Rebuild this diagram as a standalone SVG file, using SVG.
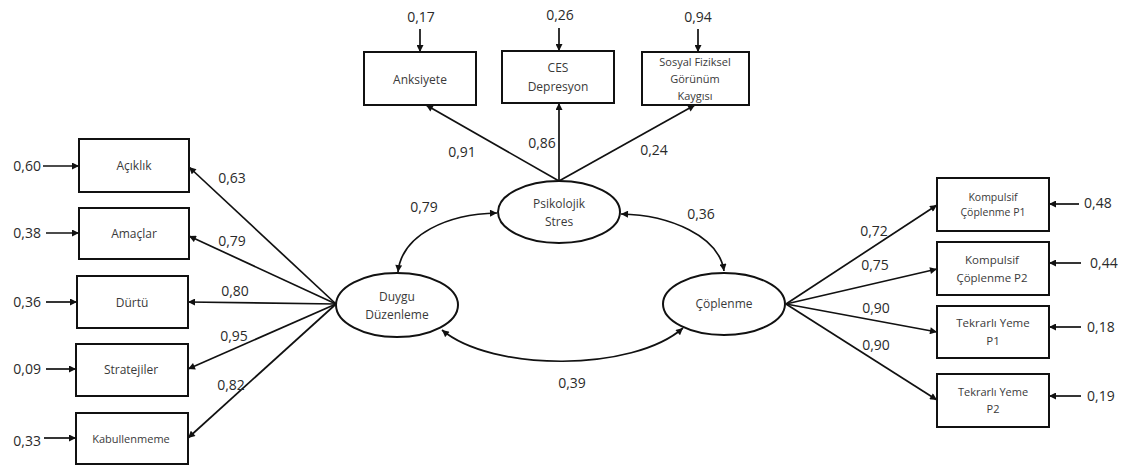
<svg xmlns="http://www.w3.org/2000/svg" width="1125" height="468" viewBox="0 0 1125 468">
  <defs>
    <marker id="ah" viewBox="0 0 10 10" refX="10" refY="5" markerWidth="8" markerHeight="7" markerUnits="userSpaceOnUse" orient="auto-start-reverse">
      <path d="M0,0 L10,5 L0,10 Z" fill="#111"/>
    </marker>
    <style>
      .box { fill: #fff; stroke: #111; stroke-width: 2; }
      .lat { fill: #fff; stroke: #111; stroke-width: 2; }
      .edge { fill: none; stroke: #111; stroke-width: 1.7; marker-end: url(#ah); }
      .cov { fill: none; stroke: #111; stroke-width: 1.7; marker-start: url(#ah); marker-end: url(#ah); }
      .lbl { font-family: "Open Sans", "Liberation Sans", sans-serif; font-size: 12px; fill: #3a3a3a; text-anchor: middle; }
      .sm { font-size: 10.5px; }
      .num { font-family: "Open Sans", "Liberation Sans", sans-serif; font-size: 14px; fill: #2a2a2a; }
      .mid { text-anchor: middle; }
      .end { text-anchor: end; }
    </style>
  </defs>

  <!-- connectors -->
  <g id="connectors">
    <!-- Duygu Düzenleme loadings -->
    <line class="edge" x1="336" y1="304" x2="189" y2="167"/>
    <line class="edge" x1="336" y1="304" x2="189" y2="236"/>
    <line class="edge" x1="336" y1="304" x2="188" y2="302"/>
    <line class="edge" x1="336" y1="304" x2="188" y2="369"/>
    <line class="edge" x1="336" y1="304" x2="188" y2="438"/>
    <!-- Psikolojik Stres loadings -->
    <line class="edge" x1="559" y1="181" x2="426" y2="105"/>
    <line class="edge" x1="559" y1="181" x2="559" y2="103"/>
    <line class="edge" x1="559" y1="181" x2="695" y2="105"/>
    <!-- Çöplenme loadings -->
    <line class="edge" x1="786" y1="304" x2="937" y2="205"/>
    <line class="edge" x1="786" y1="304" x2="937" y2="269"/>
    <line class="edge" x1="786" y1="304" x2="937" y2="332"/>
    <line class="edge" x1="786" y1="304" x2="937" y2="400"/>
    <!-- error terms, left -->
    <line class="edge" x1="43" y1="166" x2="79" y2="166"/>
    <line class="edge" x1="46" y1="233" x2="79" y2="233"/>
    <line class="edge" x1="46" y1="302" x2="77" y2="302"/>
    <line class="edge" x1="46" y1="369" x2="76" y2="369"/>
    <line class="edge" x1="44" y1="438" x2="76" y2="438"/>
    <!-- error terms, top -->
    <line class="edge" x1="420" y1="29" x2="420" y2="52"/>
    <line class="edge" x1="559" y1="28" x2="559" y2="51"/>
    <line class="edge" x1="698" y1="29" x2="698" y2="52"/>
    <!-- error terms, right -->
    <line class="edge" x1="1079" y1="204" x2="1049" y2="204"/>
    <line class="edge" x1="1081" y1="263" x2="1049" y2="263"/>
    <line class="edge" x1="1081" y1="327" x2="1049" y2="327"/>
    <line class="edge" x1="1081" y1="396" x2="1049" y2="396"/>
    <!-- covariances -->
    <path class="cov" d="M398,272 C402,234 448,214 497,213"/>
    <path class="cov" d="M621,214 C670,215 719,236 724,271"/>
    <path class="cov" d="M442,330 C492,372 633,372 683,328"/>
  </g>

  <!-- path coefficients -->
  <g id="coefficients" class="num">
    <text x="232" y="183" class="mid">0,63</text>
    <text x="232" y="246" class="mid">0,79</text>
    <text x="235" y="296" class="mid">0,80</text>
    <text x="234" y="341" class="mid">0,95</text>
    <text x="231" y="390" class="mid">0,82</text>
    <text x="462" y="157" class="mid">0,91</text>
    <text x="542" y="148" class="mid">0,86</text>
    <text x="654" y="155" class="mid">0,24</text>
    <text x="874" y="236" class="mid">0,72</text>
    <text x="875" y="270" class="mid">0,75</text>
    <text x="876" y="313" class="mid">0,90</text>
    <text x="876" y="350" class="mid">0,90</text>
    <text x="424" y="212" class="mid">0,79</text>
    <text x="701" y="219" class="mid">0,36</text>
    <text x="572" y="388" class="mid">0,39</text>
  </g>

  <!-- error variances -->
  <g id="errors" class="num">
    <text x="41" y="171" class="end">0,60</text>
    <text x="41" y="238" class="end">0,38</text>
    <text x="41" y="307" class="end">0,36</text>
    <text x="41" y="374" class="end">0,09</text>
    <text x="41" y="446" class="end">0,33</text>
    <text x="421" y="22" class="mid">0,17</text>
    <text x="560" y="20" class="mid">0,26</text>
    <text x="698" y="22" class="mid">0,94</text>
    <text x="1084" y="208">0,48</text>
    <text x="1090" y="268">0,44</text>
    <text x="1087" y="332">0,18</text>
    <text x="1087" y="401">0,19</text>
  </g>

  <!-- latent variables -->
  <g id="psikolojik-stres">
    <ellipse class="lat" cx="559" cy="212" rx="61" ry="31"/>
    <text class="lbl" x="559" y="208">Psikolojik</text>
    <text class="lbl" x="559" y="226">Stres</text>
  </g>
  <g id="duygu-duzenleme">
    <ellipse class="lat" cx="397" cy="305" rx="61" ry="32"/>
    <text class="lbl" x="397" y="301">Duygu</text>
    <text class="lbl" x="397" y="319">Düzenleme</text>
  </g>
  <g id="coplenme">
    <ellipse class="lat" cx="724" cy="304" rx="61" ry="31"/>
    <text class="lbl" x="724" y="308">Çöplenme</text>
  </g>

  <!-- Duygu Düzenleme indicators -->
  <g id="aciklik">
    <rect class="box" x="79" y="139" width="110" height="53"/>
    <text class="lbl" x="134" y="170">Açıklık</text>
  </g>
  <g id="amaclar">
    <rect class="box" x="79" y="208" width="110" height="51"/>
    <text class="lbl" x="134" y="238">Amaçlar</text>
  </g>
  <g id="durtu">
    <rect class="box" x="77" y="276" width="111" height="52"/>
    <text class="lbl" x="132" y="307">Dürtü</text>
  </g>
  <g id="stratejiler">
    <rect class="box" x="76" y="344" width="112" height="52"/>
    <text class="lbl" x="131" y="374">Stratejiler</text>
  </g>
  <g id="kabullenmeme">
    <rect class="box" x="76" y="413" width="112" height="51"/>
    <text class="lbl" x="131" y="443" style="font-size:11px">Kabullenmeme</text>
  </g>

  <!-- Psikolojik Stres indicators -->
  <g id="anksiyete">
    <rect class="box" x="364" y="52" width="112" height="53"/>
    <text class="lbl" x="420" y="84">Anksiyete</text>
  </g>
  <g id="ces-depresyon">
    <rect class="box" x="502" y="51" width="112" height="52"/>
    <text class="lbl" x="558" y="72">CES</text>
    <text class="lbl" x="558" y="91">Depresyon</text>
  </g>
  <g id="sosyal-fiziksel">
    <rect class="box" x="642" y="52" width="107" height="53"/>
    <text class="lbl" x="695" y="66" style="font-size:11px">Sosyal Fiziksel</text>
    <text class="lbl" x="695" y="83" style="font-size:11px">Görünüm</text>
    <text class="lbl" x="695" y="100" style="font-size:11px">Kaygısı</text>
  </g>

  <!-- Çöplenme indicators -->
  <g id="kompulsif-p1">
    <rect class="box" x="937" y="178" width="112" height="53"/>
    <text class="lbl sm" x="993" y="201">Kompulsif</text>
    <text class="lbl sm" x="993" y="216">Çöplenme P1</text>
  </g>
  <g id="kompulsif-p2">
    <rect class="box" x="937" y="242" width="112" height="53"/>
    <text class="lbl" x="992" y="264" style="font-size:11.5px">Kompulsif</text>
    <text class="lbl" x="992" y="282" style="font-size:11.5px">Çöplenme P2</text>
  </g>
  <g id="tekrarli-yeme-p1">
    <rect class="box" x="937" y="306" width="112" height="52"/>
    <text class="lbl" x="993" y="327" style="font-size:11.5px">Tekrarlı Yeme</text>
    <text class="lbl" x="993" y="345" style="font-size:11.5px">P1</text>
  </g>
  <g id="tekrarli-yeme-p2">
    <rect class="box" x="937" y="374" width="112" height="53"/>
    <text class="lbl" x="993" y="396" style="font-size:11px">Tekrarlı Yeme</text>
    <text class="lbl" x="993" y="413" style="font-size:11px">P2</text>
  </g>
</svg>
